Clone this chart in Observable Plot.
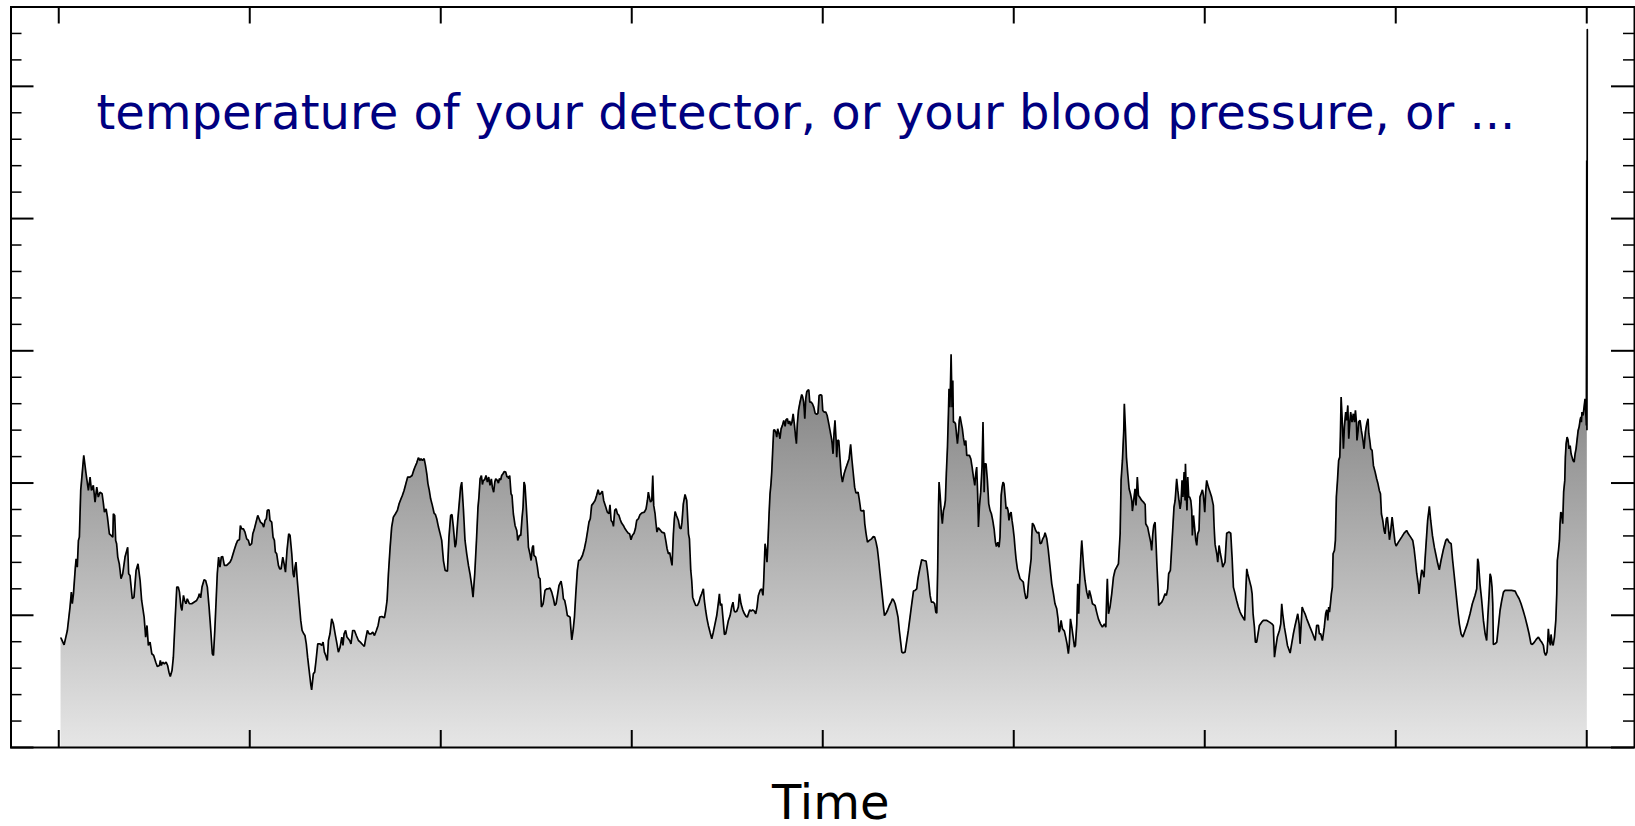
<!DOCTYPE html>
<html><head><meta charset="utf-8">
<script src="https://cdn.jsdelivr.net/npm/d3@7"></script>
<script src="https://cdn.jsdelivr.net/npm/@observablehq/plot@0.6"></script>
<style>html,body{margin:0;padding:0;background:#fff}svg{display:block}</style>
</head><body><div id="chart"></div>
<script>
// [time, value] samples
const samples = [
[1.2,8.27],[2.8,7.76],[4.5,8.85],[5.9,10.62],[6.6,11.75],[7.1,10.87],[7.7,11.62],[8.7,13.64],[9.1,14.27],[9.7,13.64],
[10.3,15.66],[10.8,15.91],[11.5,19.44],[13.1,22.09],[14.3,20.70],[15.5,19.44],[16.4,20.45],[17.1,19.44],[18.1,19.82],[19.0,18.56],
[19.9,19.69],[20.7,18.94],[21.6,19.31],[22.7,19.19],[23.4,18.43],[23.9,17.80],[24.8,18.05],[25.5,17.42],[26.5,16.16],[27.4,16.04],
[28.3,15.91],[28.6,17.68],[29.3,17.55],[29.8,15.66],[30.3,15.41],[30.9,14.40],[31.7,13.89],[32.6,12.76],[33.5,13.14],[34.7,14.40],
[36.1,15.15],[36.6,13.14],[37.3,13.01],[38.5,11.25],[39.4,11.37],[40.5,13.39],[41.5,13.89],[42.6,12.63],[43.4,11.12],[44.7,9.86],
[45.5,8.35],[46.2,9.23],[46.9,7.72],[47.8,7.97],[48.7,7.09],[49.7,6.96],[50.8,6.45],[51.6,6.13],[52.7,6.20],[53.2,6.58],
[53.7,6.20],[54.4,6.45],[55.3,6.33],[56.2,6.45],[57.0,6.20],[57.7,5.70],[58.4,5.37],[59.3,5.82],[60.0,6.83],[60.9,9.61],
[61.8,12.13],[62.6,12.13],[63.2,11.75],[64.0,10.62],[64.5,10.36],[65.3,11.50],[65.9,11.12],[66.6,10.87],[67.3,11.25],[68.4,10.87],
[69.6,10.87],[70.8,10.99],[72.2,11.12],[73.1,11.37],[73.6,11.62],[74.3,11.32],[75.0,12.13],[76.1,12.68],[76.9,12.63],[77.8,12.13],
[78.7,10.62],[79.6,8.85],[80.4,7.09],[81.0,6.96],[81.7,8.85],[82.4,11.12],[83.0,13.14],[83.7,14.40],[84.4,13.64],[85.1,14.40],
[85.8,14.45],[86.7,13.77],[87.9,13.77],[89.7,14.02],[90.5,14.27],[91.8,14.90],[92.8,15.36],[93.7,15.66],[94.6,15.71],[95.1,16.79],
[95.8,16.54],[96.7,16.54],[97.5,16.29],
[98.4,15.78],[99.3,15.66],[100.0,15.28],[101.0,15.41],[101.6,16.16],[102.3,16.46],[103.3,17.04],[104.2,17.55],[104.9,17.30],[105.6,17.04],
[106.6,16.92],[107.3,16.67],[108.0,17.17],[108.7,17.30],[109.2,17.93],[110.1,17.98],[110.6,17.17],[111.5,17.04],[112.2,15.91],[112.9,15.66],
[113.4,14.78],[114.1,14.65],[115.0,13.77],[115.7,13.51],[116.4,13.51],[117.3,14.40],[118.0,13.89],[118.7,13.26],[119.5,14.90],[120.4,16.16],
[121.1,16.04],[122.0,14.65],[122.7,13.14],[123.2,12.88],[123.7,13.64],[124.2,14.02],[124.9,12.63],[125.8,11.12],[126.7,9.61],[127.4,8.85],
[128.3,8.60],[128.9,8.47],[129.6,7.84],[130.3,6.83],[131.0,5.95],[131.9,4.82],[132.4,4.36],[133.3,5.57],[134.0,5.70],[134.7,6.58],
[135.6,7.84],[136.8,7.84],[137.7,7.72],[138.4,7.97],[139.1,7.21],[139.8,6.96],[140.6,6.58],[141.2,8.09],[142.0,8.60],[142.9,9.73],
[143.8,9.35],[144.7,8.60],[145.5,7.97],[146.4,7.21],[147.3,7.59],[148.2,8.35],[148.8,7.72],[149.4,8.60],[150.2,8.85],[150.9,8.35],
[151.6,8.22],[152.3,8.09],[153.0,7.84],[153.9,8.85],[154.8,8.85],[155.8,8.47],[156.9,8.09],[157.9,7.97],[159.0,7.79],[160.0,7.64],
[160.7,8.22],[161.6,8.85],[162.5,8.60],[163.5,8.60],[164.4,8.72],[165.3,8.47],[166.3,8.85],[167.2,9.23],[168.0,9.86],[169.1,9.91],
[169.8,9.86],[170.5,9.81],[171.2,10.36],[171.9,11.12],[172.6,13.14],[173.5,15.15],[174.3,16.67],[175.2,17.42],[176.3,17.68],[177.3,17.93],
[178.2,18.43],[179.2,18.81],[179.9,19.06],[180.8,19.44],[181.5,19.82],[182.2,20.20],[182.7,20.45],[183.9,20.45],[185.0,20.57],[185.7,20.90],
[186.5,21.21],[187.4,21.51],[188.3,21.91],[189.2,21.71],[189.7,21.84],[190.4,21.71],[191.3,21.84],[192.0,21.33],[192.7,20.70],[193.3,19.94],
[194.0,19.44],[194.7,18.81],[195.6,18.31],[196.5,17.73],[197.2,17.62],[197.9,17.30],[198.8,16.67],[199.6,16.21],
[200.5,15.66],[201.4,14.14],[202.3,13.39],[203.5,13.34],[204.3,15.91],[205.2,17.55],[205.9,17.62],[206.6,16.67],[207.5,15.15],[208.0,15.41],
[208.9,17.17],[209.8,18.68],[210.4,19.69],[211.0,20.07],[211.9,17.93],[212.7,15.66],[213.6,14.65],[214.5,13.77],[215.3,13.14],[216.2,12.25],
[216.9,11.37],[217.8,13.14],[218.7,15.66],[219.5,18.18],[220.0,18.94],[220.6,20.32],[221.3,20.57],[221.8,19.89],[222.3,20.20],[223.0,20.25],
[223.7,20.57],[224.4,20.07],[225.1,20.45],[225.8,19.82],[226.5,20.32],[227.0,19.69],[227.7,19.31],[228.3,20.07],[228.8,20.32],[229.6,20.20],
[230.2,19.99],[230.7,20.32],[231.4,20.25],[231.9,20.57],[232.6,20.70],[233.3,20.88],[234.0,20.83],[234.7,20.45],[235.2,20.50],[235.6,20.32],
[236.1,20.57],[236.8,19.19],[237.3,19.06],[238.0,17.68],[238.9,16.79],[239.8,16.41],[240.3,15.66],[241.2,16.04],[241.9,16.04],[242.6,17.42],
[243.1,18.18],[243.6,20.07],[244.1,19.82],[244.7,18.43],[245.4,16.67],[245.9,15.15],[246.7,14.65],[247.3,14.14],[248.0,15.15],[248.5,15.28],
[248.8,14.52],[249.7,14.40],[250.6,13.64],[251.3,12.88],[252.0,12.76],[252.7,10.62],[253.6,10.87],[254.6,11.88],[255.5,12.00],[256.3,12.00],
[257.2,12.05],[258.1,11.75],[259.0,11.25],[259.7,10.74],[260.4,10.87],[261.1,11.50],[261.9,12.25],[263.0,12.58],[263.7,12.00],[264.2,11.25],
[264.9,11.12],[265.6,10.62],[266.3,9.98],[267.2,9.91],[267.7,9.86],[268.2,8.85],[268.6,8.14],[269.3,8.85],[270.0,9.86],[270.7,11.62],
[271.5,13.39],[272.2,14.14],[273.1,14.20],[274.2,14.52],[275.2,15.03],[276.1,15.66],[276.8,16.29],[277.6,17.04],[278.3,17.30],[279.0,18.31],
[279.9,18.48],[280.8,18.68],[281.6,19.06],[282.4,19.49],[283.0,19.14],[283.7,19.19],[284.6,19.39],[285.3,18.68],[286.4,18.18],[287.2,17.80],
[288.1,17.68],[288.6,18.36],[289.2,17.17],[289.9,17.04],[290.4,16.72],[291.1,17.93],[291.8,18.05],[292.5,17.68],[293.3,17.55],[294.0,17.22],
[294.7,16.97],[295.6,16.79],[296.5,16.54],[297.4,16.36],[298.2,16.21],[298.9,16.16],[299.6,15.71],[300.3,16.04],[301.2,16.21],[301.9,16.54],
[302.6,17.17],[303.5,17.30],[304.3,17.60],
[305.2,17.73],[306.6,17.80],[307.5,18.05],[308.2,18.68],[308.7,19.31],[309.2,18.94],[309.8,18.56],[310.5,18.68],[311.0,20.57],[311.5,18.31],
[312.2,17.68],[312.7,16.92],[313.2,16.29],[313.9,16.62],[314.8,16.46],[315.7,16.29],[317.1,16.21],[317.8,15.66],[318.5,15.03],[319.2,14.65],
[319.9,14.73],[320.6,14.14],[321.1,13.77],[321.8,16.16],[322.3,17.30],[322.7,17.85],[323.4,17.55],[324.4,17.17],[325.1,16.62],[325.8,16.54],
[326.3,17.04],[327.0,18.43],[327.9,19.14],[328.8,18.68],[329.7,16.16],[330.2,15.78],[330.9,13.39],[331.4,12.63],[331.9,11.37],[332.8,10.99],
[333.5,10.74],[334.4,10.74],[335.2,10.99],[335.9,11.37],[336.6,11.62],[337.5,12.00],[338.0,11.12],[338.7,10.36],[339.4,9.73],[340.1,9.23],
[341.0,8.72],[341.9,8.22],[342.7,8.72],[343.6,9.35],[344.5,9.98],[345.4,10.99],[345.9,11.62],[346.4,10.74],[347.1,10.87],[347.8,9.73],
[348.5,8.55],[349.2,8.60],[349.9,9.10],[350.6,9.61],[351.5,9.98],[352.3,10.62],[353.0,10.99],[353.6,10.36],[354.1,10.24],[355.0,10.31],
[355.8,10.62],[356.4,11.62],[357.2,10.87],[358.1,10.41],[359.0,10.11],[359.8,9.93],[360.5,9.86],[361.1,10.11],[361.8,10.41],[362.5,10.31],
[363.3,10.41],[364.2,10.31],[364.9,10.11],[365.6,10.62],[366.3,11.50],[367.2,11.88],[368.0,12.00],[368.7,11.50],[369.1,12.63],[369.8,15.41],
[370.3,14.90],[370.8,14.02],[371.2,15.15],[371.9,17.68],[372.4,19.19],[372.9,19.94],[373.3,20.83],[373.8,22.47],[374.3,23.98],[374.7,24.03],
[375.4,23.85],[375.9,23.47],[376.4,24.10],[377.1,23.73],[377.6,23.35],[378.2,24.10],[378.9,24.36],[379.6,24.74],[380.3,24.28],[380.8,24.79],
[381.5,24.86],[382.0,24.48],[382.7,24.69],[383.2,24.36],[383.9,24.61],[384.5,25.24],[385.2,24.36],[385.7,23.60],[386.2,22.97],[386.7,24.48],
[387.3,25.49],[388.0,26.05],[388.5,26.37],[389.0,26.70],[389.5,26.50],[390.0,26.12],[390.6,24.86],[391.1,26.37],[391.6,26.88],[392.1,27.00],
[392.7,27.05],[393.2,26.12],[393.9,26.12],[394.6,26.00],[395.3,25.74],[396.0,25.29],[396.8,25.19],[397.5,25.29],[398.1,26.62],[398.9,26.68],
[399.5,26.62],[400.0,25.49],[400.7,25.37],[401.6,25.37],[402.3,25.11],[403.0,24.61],[403.8,23.98],[404.7,23.27],[405.4,22.21],
[405.9,23.73],[406.4,24.74],[407.0,23.22],[407.3,21.96],[407.8,23.22],[408.4,23.22],[409.1,21.71],[409.6,20.70],[410.3,20.07],[411.2,20.70],
[412.0,21.08],[412.9,21.46],[413.8,21.84],[414.6,22.92],[415.3,21.71],[416.0,20.70],[416.7,19.69],[417.4,19.24],[418.5,19.31],[419.2,18.68],
[419.9,17.93],[420.6,17.88],[421.5,17.93],[422.0,16.92],[422.7,16.16],[423.4,15.53],[424.4,15.66],[425.6,15.78],[426.5,15.96],[427.2,15.91],
[427.9,15.53],[428.6,15.03],[429.3,14.14],[430.0,13.14],[430.9,11.88],[431.8,10.62],[432.3,9.98],[433.0,10.11],[433.9,10.36],[434.9,10.74],
[435.8,10.99],[436.5,11.25],[437.2,11.12],[437.9,10.87],[438.7,10.36],[439.4,9.86],[440.1,8.85],[440.8,7.97],[441.4,7.21],[441.9,7.16],
[443.1,7.21],[444.0,8.09],[444.8,8.85],[445.7,9.86],[446.6,10.87],[447.5,11.83],[448.3,11.88],[449.2,12.00],[449.7,12.63],[450.3,13.14],
[451.0,13.64],[451.8,14.20],[453.0,14.14],[454.1,14.09],[454.8,13.39],[455.5,12.51],[456.2,11.50],[456.9,10.99],[457.9,10.99],[458.6,10.87],
[459.2,10.24],[459.7,10.16],[460.2,13.64],[460.6,18.18],[460.9,20.07],[461.4,19.19],[462.1,17.68],[462.6,16.92],[463.2,17.93],[463.7,18.18],
[464.2,18.68],[464.7,20.70],[465.3,22.72],[465.8,25.24],[466.1,27.13],[466.5,25.74],[466.8,27.00],[467.2,29.73],[467.7,25.74],[468.1,27.76],
[468.4,24.61],[468.9,24.61],[469.5,24.48],[470.0,23.73],[470.5,22.97],[471.0,23.73],[471.5,24.74],[471.9,25.04],[472.6,24.48],[473.1,24.10],
[473.6,23.47],[474.3,22.84],[474.9,23.22],[475.4,22.09],[476.8,22.09],[477.5,21.84],[478.2,21.21],[478.9,20.45],[479.6,19.82],[480.1,20.70],
[480.6,21.21],[481.1,19.19],[481.5,16.67],[482.0,18.18],[482.7,19.31],[483.4,21.21],[483.9,24.61],[484.3,21.21],[484.5,19.31],[484.8,21.46],
[485.5,21.46],[486.2,20.20],[486.9,18.43],[487.6,17.93],[488.3,17.68],[489.0,17.17],[489.7,16.54],[490.4,15.53],[490.9,15.20],[491.6,15.53],
[492.3,15.15],[492.8,15.91],[493.4,19.06],[493.9,19.69],[494.4,20.07],[494.9,19.94],[495.5,18.94],[496.0,18.05],[496.5,18.18],[497.0,17.93],
[497.5,17.17],[498.1,17.68],[498.6,17.80],[499.1,17.17],[499.6,16.67],[500.2,15.91],[500.7,15.03],[501.2,14.27],[501.9,13.51],[502.6,13.14],
[503.3,12.76],[504.2,12.63],[505.0,12.51],[505.7,11.75],[506.4,11.25],[507.1,11.37],[507.8,12.63],
[508.4,13.39],[509.1,14.27],[509.4,15.91],[509.8,16.97],[510.6,16.79],[511.5,16.41],[512.4,16.21],[513.1,16.29],[513.8,15.41],[514.5,15.46],
[515.2,15.78],[515.9,15.96],[516.4,16.24],[517.3,15.78],[518.1,14.90],[519.0,13.64],[519.9,12.38],[520.8,11.62],[521.6,10.87],[522.5,10.49],
[523.2,9.73],[523.7,8.72],[524.1,8.85],[524.8,9.61],[525.5,8.98],[526.5,8.80],[527.2,8.35],[527.9,7.84],[528.6,7.09],[529.1,7.84],
[529.7,9.73],[530.4,9.10],[531.1,8.35],[531.8,7.59],[532.3,7.72],[533.0,9.35],[533.5,12.38],[534.0,10.11],[534.4,12.13],[535.1,14.40],
[535.6,15.66],[536.1,14.65],[536.6,13.64],[537.3,12.63],[538.2,11.75],[539.1,11.25],[539.6,11.88],[540.3,11.50],[541.2,10.87],[542.6,10.74],
[543.4,10.24],[544.3,9.73],[545.4,9.35],[546.4,9.10],[547.5,9.35],[548.2,9.10],[548.7,11.62],[549.0,12.76],[549.6,10.11],[550.4,10.62],
[551.3,11.62],[552.2,12.88],[553.0,13.39],[553.9,13.64],[554.8,13.89],[555.7,16.16],[556.2,20.20],[556.9,21.71],[557.6,23.98],[557.9,26.00],
[558.5,23.98],[559.0,21.96],[559.7,20.70],[560.4,19.57],[561.1,19.19],[561.8,18.68],[562.1,17.88],[562.6,18.43],[563.2,19.19],[563.5,19.57],
[564.0,18.31],[564.4,19.44],[564.7,20.45],[565.3,19.06],[565.9,18.94],[567.0,18.68],[567.9,18.56],[568.8,18.38],[569.1,16.92],[569.6,16.79],
[570.1,16.67],[570.8,16.16],[571.7,15.53],[572.2,14.90],[572.8,16.16],[573.3,16.79],[574.0,17.04],[574.5,15.41],[575.0,13.64],[575.6,11.88],
[575.9,10.74],[576.6,10.87],[577.5,10.99],[578.3,11.25],[579.2,11.62],[579.9,11.50],[580.6,12.00],[581.1,13.14],[582.0,13.39],[582.7,15.15],
[583.4,16.92],[583.9,18.18],[584.5,18.68],[585.3,20.32],[585.9,19.44],[586.5,18.68],[587.1,18.05],[587.6,18.56],[588.1,20.20],[588.6,18.94],
[589.2,20.83],[589.7,18.68],[589.9,21.46],[590.4,18.81],[590.7,17.93],[591.1,20.45],[591.6,18.94],[592.1,18.94],[592.7,18.68],[593.2,17.93],
[593.5,16.04],[594.1,17.55],[594.6,16.79],[595.3,15.66],[595.8,15.28],[596.3,16.16],[597.0,16.41],[597.5,18.94],[598.1,19.19],[598.8,19.49],
[599.3,19.06],[600.0,17.80],[600.5,19.31],[601.0,20.20],[601.9,19.69],[602.8,19.31],[603.6,18.94],[604.5,18.31],[604.9,16.67],[605.4,15.36],
[606.3,14.65],[606.8,14.02],[607.5,15.28],[608.2,14.65],[608.9,14.14],[609.4,13.64],
[610.6,14.02],[611.5,16.21],[612.7,16.29],[613.6,16.21],[614.3,14.40],[615.0,12.13],[615.9,11.62],[616.7,11.12],[617.6,10.62],[618.5,10.24],
[619.4,9.98],[620.9,9.61],[621.5,11.88],[622.0,13.51],[622.5,13.14],[623.4,12.63],[624.3,12.13],[624.8,11.62],[625.3,10.11],[626.0,9.10],
[626.5,7.97],[627.2,7.97],[627.9,8.60],[628.6,9.23],[629.8,9.48],[630.7,9.61],[632.5,9.61],[633.9,9.48],[635.2,9.35],[635.9,9.23],
[636.5,6.83],[637.2,7.59],[638.0,8.35],[639.1,8.85],[639.8,9.35],[640.3,10.87],[640.8,10.11],[641.7,9.10],[642.6,8.35],[643.3,7.72],
[644.7,7.14],[645.5,7.84],[646.4,8.60],[647.3,9.23],[648.7,10.11],[649.4,9.35],[649.9,7.84],[650.4,9.10],[651.0,10.62],[651.7,10.36],
[652.5,10.11],[653.4,9.73],[655.1,9.10],[656.5,8.60],[657.8,8.09],[658.6,9.23],[659.5,9.23],[660.0,8.60],[660.7,8.60],[661.6,8.09],
[662.1,8.60],[662.6,9.10],[663.3,10.11],[663.9,10.41],[664.4,9.61],[664.9,10.62],[665.3,10.24],[665.8,10.87],[666.3,11.62],[666.8,12.13],
[667.2,14.65],[667.9,14.90],[668.4,15.66],[668.9,18.94],[669.5,20.20],[670.1,21.71],[670.7,21.96],[671.0,23.47],[671.4,26.50],[671.9,24.99],
[672.6,22.59],[673.1,24.23],[673.8,25.37],[674.3,24.74],[674.9,25.87],[675.4,23.35],[675.9,24.48],[676.4,25.37],[677.1,24.61],[677.8,25.24],
[678.4,24.61],[678.9,25.49],[679.4,24.61],[679.7,23.22],[680.3,23.98],[680.6,24.61],[681.3,24.74],[682.0,23.98],[682.7,23.35],[683.4,22.59],
[684.1,23.85],[684.8,24.48],[685.5,24.86],[685.9,23.73],[686.4,23.22],[686.9,22.59],[687.6,22.47],[688.3,21.33],[689.2,20.83],[690.0,20.32],
[690.7,19.94],[691.4,19.44],[692.0,19.19],[692.5,17.68],[693.2,17.17],[693.9,16.41],[694.4,16.16],[695.1,17.30],[695.6,17.42],[696.2,16.54],
[696.7,15.71],[697.4,16.41],[698.1,17.42],[698.8,16.54],[699.6,15.53],[700.2,15.23],[701.4,15.53],[703.1,15.91],[704.4,16.21],[705.7,16.41],
[706.6,16.16],[707.8,15.91],[708.9,15.66],[709.6,15.03],[710.3,14.14],[711.0,13.14],[711.9,12.25],
[712.2,11.62],[712.9,12.63],[713.6,13.44],[714.1,13.26],[714.8,12.88],[715.3,14.14],[716.0,15.66],[716.7,17.17],[717.6,18.23],[718.3,17.17],
[719.2,16.04],[720.2,15.15],[721.1,14.52],[722.0,13.89],[722.8,13.44],[723.7,14.14],[724.9,14.95],[726.2,15.66],[727.0,15.78],[727.9,15.53],
[729.0,15.41],[729.8,14.14],[730.7,12.88],[731.6,11.62],[732.5,10.36],[733.3,9.35],[734.2,8.60],[735.1,8.35],[736.3,8.85],[737.5,9.35],
[738.9,10.11],[740.1,10.87],[741.5,11.50],[742.4,12.00],[742.9,14.27],[743.3,14.02],[744.1,12.38],[745.0,11.12],[745.9,9.61],[746.8,8.60],
[747.6,8.09],[748.2,9.86],[748.9,11.62],[749.4,13.14],[749.9,12.88],[750.4,12.13],[750.8,10.87],[751.1,7.79],[752.0,7.84],[752.9,7.97],
[753.7,9.10],[754.6,10.36],[755.5,11.12],[756.4,11.75],[757.2,11.88],[759.0,11.88],[760.7,11.88],[762.5,11.83],[763.3,11.58],[764.6,11.25],
[765.6,10.87],[766.7,10.36],[767.7,9.86],[768.8,9.23],[769.8,8.60],[770.8,7.84],[771.5,7.79],[772.6,7.97],[773.8,8.22],[774.7,8.35],
[775.7,8.09],[776.4,7.97],[777.3,7.72],[777.8,7.21],[778.5,6.96],[779.2,7.21],[779.6,8.09],[779.9,8.98],[780.4,8.09],[781.0,7.72],
[781.3,8.55],[781.8,7.97],[782.4,7.72],[783.1,8.35],[783.8,9.61],[784.3,11.62],[784.6,14.14],[785.2,14.90],[785.7,15.66],[786.0,16.92],
[786.4,17.80],[786.9,17.68],[787.4,16.92],[787.9,19.31],[788.5,20.20],[788.8,21.96],[789.2,22.97],[789.7,23.47],[790.2,23.27],[790.7,22.59],
[791.3,22.84],[791.8,22.21],[792.3,21.96],[792.8,21.71],[793.4,21.58],[793.9,22.21],[794.4,22.59],[794.9,23.22],[795.5,23.98],[796.0,24.23],
[796.5,24.74],[796.9,24.99],[797.2,24.61],[797.5,25.37],[798.1,25.11],[798.6,25.74],[799.1,26.37],[799.5,25.24],[799.8,24.36],
[800.0,44.4],[800.1,24.0],[800.3,54.3]
];

const xTicks = [0, 100, 200, 300, 400, 500, 600, 700, 800];
const yMajorTicks = [0, 10, 20, 30, 40, 50];
const yMinorTicks = [2, 4, 6, 8, 12, 14, 16, 18, 22, 24, 26, 28, 32, 34, 36, 38, 42, 44, 46, 48, 52, 54];
const titleText = "temperature of your detector, or your blood pressure, or ...";
const xLabel = "Time";

const data = samples.map(([t, v]) => ({t, v}));

const W = 1635, H = 826;
const mL = 10.5, mR = 1, mT = 6.5, mB = 79;
const fw = W - mL - mR, fh = H - mT - mB;
const font = "DejaVu Sans";

const chart = Plot.plot({
  width: W, height: H,
  marginLeft: mL, marginRight: mR, marginTop: mT, marginBottom: mB,
  x: {domain: [-25, 825], axis: null},
  y: {domain: [0, 56], axis: null},
  style: {fontFamily: font, background: "white", overflow: "visible"},
  marks: [
    Plot.areaY(data, {x: "t", y: "v", fill: "url(#grayfade)"}),
    Plot.lineY(data, {x: "t", y: "v", stroke: "black", strokeWidth: 1.7, strokeLinejoin: "miter"}),
    Plot.tickX(xTicks, {x: d => d, stroke: "black", strokeWidth: 2, insetTop: fh - 17}),
    Plot.tickX(xTicks, {x: d => d, stroke: "black", strokeWidth: 2, insetBottom: fh - 17}),
    Plot.tickY(yMajorTicks, {y: d => d, stroke: "black", strokeWidth: 2, insetRight: fw - 23}),
    Plot.tickY(yMajorTicks, {y: d => d, stroke: "black", strokeWidth: 2, insetLeft: fw - 23}),
    Plot.tickY(yMinorTicks, {y: d => d, stroke: "black", strokeWidth: 1.5, insetRight: fw - 11}),
    Plot.tickY(yMinorTicks, {y: d => d, stroke: "black", strokeWidth: 1.5, insetLeft: fw - 11}),
    Plot.frame({stroke: "black", strokeWidth: 2}),
    Plot.text([titleText], {text: d => d, frameAnchor: "top-left", textAnchor: "start", lineAnchor: "bottom",
      dx: 85.5, dy: 121.5, fontSize: 48, fill: "#000080", fontFamily: font}),
    Plot.text([xLabel], {text: d => d, frameAnchor: "bottom", lineAnchor: "bottom",
      dx: 8, dy: 71, fontSize: 48, fill: "black", fontFamily: font})
  ]
});

const ns = "http://www.w3.org/2000/svg";
const defs = document.createElementNS(ns, "defs");
const lg = document.createElementNS(ns, "linearGradient");
lg.setAttribute("id", "grayfade");
lg.setAttribute("x1", "0"); lg.setAttribute("y1", "0");
lg.setAttribute("x2", "0"); lg.setAttribute("y2", "1");
[["0", "#262626"], ["1", "#e6e6e6"]].forEach(([o, c]) => {
  const s = document.createElementNS(ns, "stop");
  s.setAttribute("offset", o); s.setAttribute("stop-color", c);
  lg.appendChild(s);
});
defs.appendChild(lg);
chart.insertBefore(defs, chart.firstChild);
document.getElementById("chart").appendChild(chart);
</script>
</body></html>
